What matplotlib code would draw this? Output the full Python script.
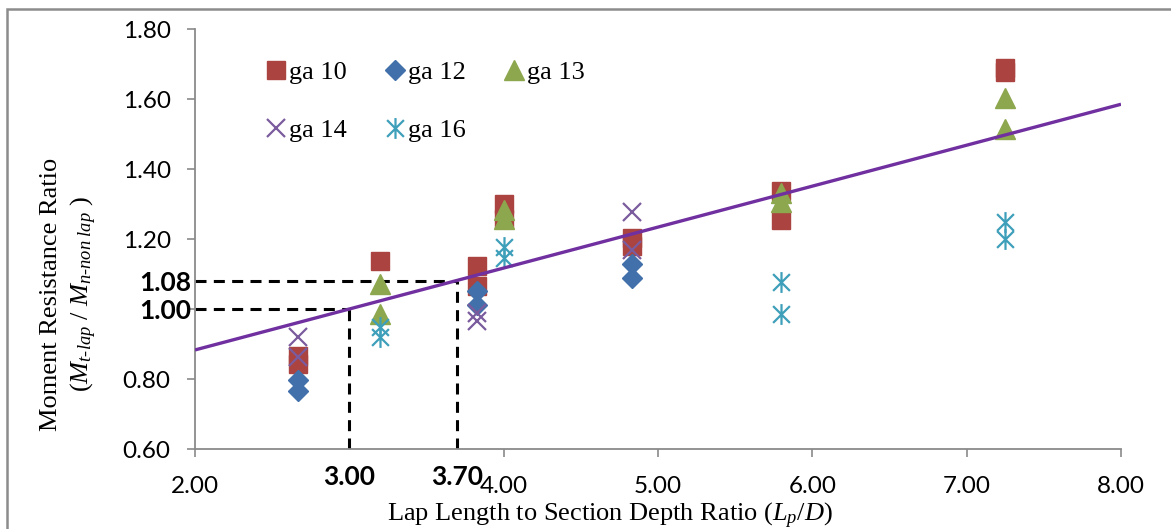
import matplotlib
matplotlib.use("Agg")
import matplotlib.pyplot as plt
from matplotlib.path import Path
from matplotlib.patches import Rectangle

plt.rcParams["mathtext.fontset"] = "custom"
plt.rcParams["mathtext.rm"] = "Liberation Serif"
plt.rcParams["mathtext.it"] = "Liberation Serif:italic"

# ---- data -------------------------------------------------------------
ga10_x = [2.67, 2.67, 3.20, 3.83, 3.83, 4.00, 4.00, 4.83, 4.83, 5.80, 5.80, 7.25, 7.25]
ga10_y = [0.866, 0.843, 1.137, 1.123, 1.067, 1.299, 1.258, 1.203, 1.181, 1.337, 1.253, 1.689, 1.677]

ga12_x = [2.67, 2.67, 3.83, 3.83, 4.83, 4.83]
ga12_y = [0.797, 0.767, 1.052, 1.011, 1.129, 1.088]

ga13_x = [3.20, 3.20, 4.00, 4.00, 5.80, 5.80, 7.25, 7.25]
ga13_y = [1.071, 0.986, 1.283, 1.257, 1.331, 1.307, 1.602, 1.514]

ga14_x = [2.67, 2.67, 3.83, 3.83, 4.83, 4.83]
ga14_y = [0.919, 0.864, 0.988, 0.967, 1.277, 1.169]

ga16_x = [3.20, 3.20, 4.00, 4.00, 5.80, 5.80, 7.25, 7.25]
ga16_y = [0.948, 0.921, 1.178, 1.145, 1.078, 0.986, 1.249, 1.200]

series_names = ["ga 10", "ga 12", "ga 13", "ga 14", "ga 16"]

# linear trend line  y = slope * x + intercept
trend_slope = 0.117
trend_intercept = 0.649
trend_range = [2.0, 8.0]

# reference points marked with dashed guides
ref_x = [3.00, 3.70]
ref_y = [1.00, 1.08]
ref_x_labels = ["3.00", "3.70"]
ref_y_labels = ["1.00", "1.08"]

x_ticks = [2, 4, 5, 6, 7, 8]
x_tick_labels = ["2.00", "4.00", "5.00", "6.00", "7.00", "8.00"]
y_ticks = [0.6, 0.8, 1.0, 1.2, 1.4, 1.6, 1.8]
y_tick_labels = ["0.60", "0.80", "", "1.20", "1.40", "1.60", "1.80"]

# ---- figure -----------------------------------------------------------
W, H = 1171, 529
fig = plt.figure(figsize=(W / 100, H / 100), dpi=100)
ax = fig.add_axes([195 / W, 1 - 449 / H, (1121 - 195) / W, (449 - 29) / H])

# outer chart border
fig.patches.append(Rectangle((7 / W, -0.2), 1.2, 1 - 9 / H + 0.2,
                             transform=fig.transFigure, fill=False,
                             ec="#8c8c8c", lw=1.8))

# star marker: an x with a vertical bar through it
star = Path([(-0.5, -0.5), (0.5, 0.5), (-0.5, 0.5), (0.5, -0.5), (0, -0.62), (0, 0.62)],
            [Path.MOVETO, Path.LINETO, Path.MOVETO, Path.LINETO, Path.MOVETO, Path.LINETO])

styles = [
    dict(marker="s", ms=13.5, color="#AB4340", mec="#AB4340", ls="none"),
    dict(marker="D", ms=10, color="#4270AA", mec="#4270AA", ls="none"),
    dict(marker="^", ms=14, color="#8CA74D", mec="#8CA74D", ls="none"),
    dict(marker="x", ms=13, color="#7A5C9E", mew=1.6, ls="none"),
    dict(marker=star, ms=15, color="#3E9FBA", mew=1.6, ls="none"),
]
data = [(ga10_x, ga10_y), (ga12_x, ga12_y), (ga13_x, ga13_y),
        (ga14_x, ga14_y), (ga16_x, ga16_y)]

handles = []
for (xs, ys), st, name in zip(data, styles, series_names):
    h, = ax.plot(xs, ys, label=name, zorder=3, **st)
    handles.append(h)

# trend line
tx = trend_range
ty = [trend_slope * v + trend_intercept for v in tx]
ax.plot(tx, ty, color="#7030A0", lw=2.4, zorder=4, solid_capstyle="butt")

# dashed guides
dash = dict(color="black", lw=2.2, ls=(0, (3.6, 2.4)), zorder=2)
for xv, yv in zip(ref_x, ref_y):
    ax.plot([2.0, xv], [yv, yv], **dash)
    ax.plot([xv, xv], [0.6, yv], **dash)

ax.set_xlim(2, 8)
ax.set_ylim(0.6, 1.8)
ax.set_xticks(x_ticks, x_tick_labels)
ax.set_yticks(y_ticks, y_tick_labels)

for s in ["top", "right"]:
    ax.spines[s].set_visible(False)
for s in ["left", "bottom"]:
    ax.spines[s].set_color("#8a8a8a")
    ax.spines[s].set_linewidth(1.3)

ax.tick_params(axis="both", direction="out", length=5.5, width=1.2, color="#8a8a8a")
ax.tick_params(axis="x", pad=14)
ax.tick_params(axis="y", pad=12)
for lab in ax.get_xticklabels() + ax.get_yticklabels():
    lab.set_fontfamily("Lato")
    lab.set_fontsize(17.5)
    lab.set_color("black")

# bold labels for the reference values
for xv, txt in zip(ref_x, ref_x_labels):
    ax.text(xv, -0.038, txt, transform=ax.get_xaxis_transform(), ha="center",
            va="top", fontfamily="Lato", fontweight="bold", fontsize=19)
for yv, txt in zip(ref_y, ref_y_labels):
    ax.text(-0.004, yv, txt, transform=ax.get_yaxis_transform(), ha="right",
            va="center_baseline", fontfamily="Lato", fontweight="bold", fontsize=19)

# axis titles
fig.text(51 / W, 1 - 294 / H, "Moment Resistance Ratio", rotation=90,
         ha="center", va="center", fontfamily="Liberation Serif", fontsize=19)
fig.text(84 / W, 1 - 294 / H, r"$(M_{t\text{-}lap}\ /\ M_{n\text{-}non\ lap}\ )$",
         rotation=90, ha="center", va="center", fontsize=19)
fig.text(610 / W, 1 - 516 / H, r"Lap Length to Section Depth Ratio ($L_p$/$D$)",
         ha="center", va="center", fontfamily="Liberation Serif", fontsize=19)

# legend, filled row by row
order = [0, 3, 1, 4, 2]
leg = ax.legend([handles[i] for i in order], [series_names[i] for i in order],
                ncol=3, loc="upper left", bbox_to_anchor=(265 / W, 1 - 61 / H),
                bbox_transform=fig.transFigure, frameon=False,
                prop=dict(family="Liberation Serif", size=19),
                handlelength=0.8, handletextpad=0.1, columnspacing=1.42,
                labelspacing=1.3, borderpad=0, borderaxespad=0)

fig.savefig("out.png", dpi=100)
